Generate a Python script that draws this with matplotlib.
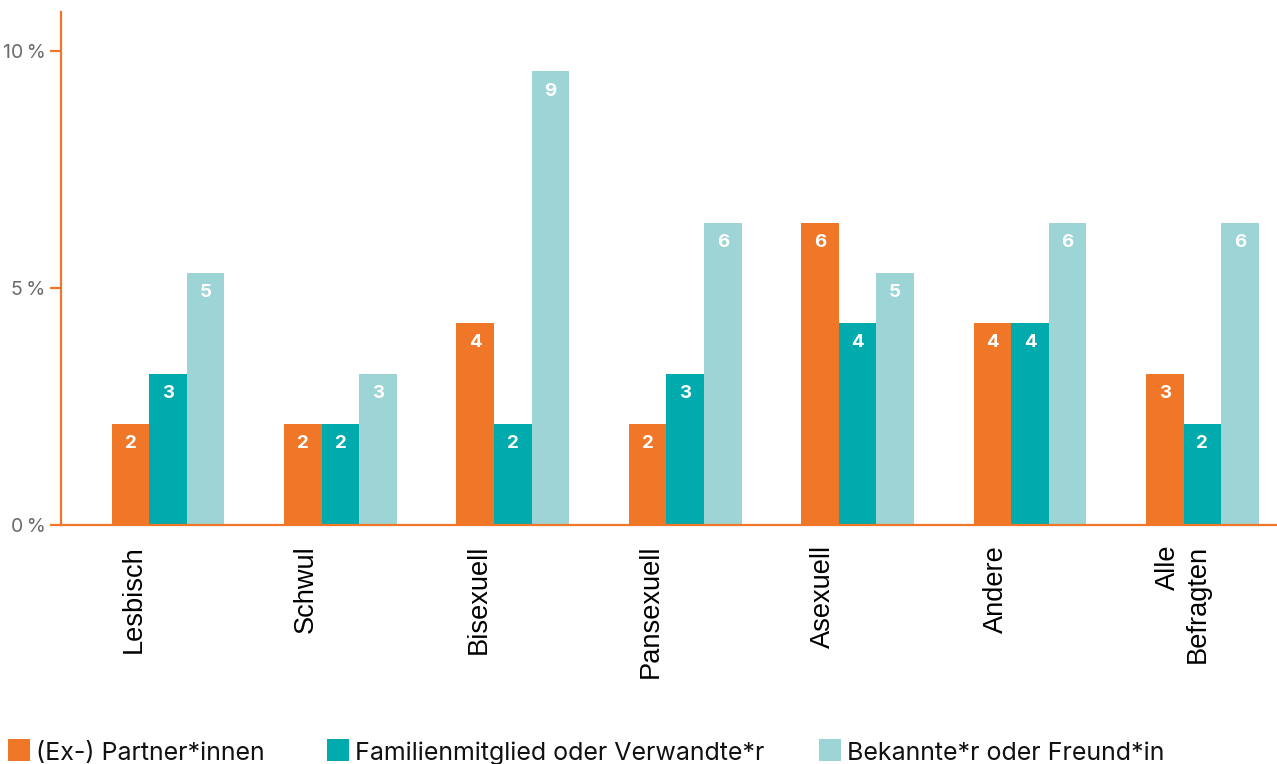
import matplotlib
matplotlib.use("Agg")
import matplotlib.pyplot as plt
import numpy as np
from matplotlib.patches import Rectangle
from matplotlib.transforms import blended_transform_factory

# categories and series (percent of respondents, counts shown on bars)
categories = ["Lesbisch", "Schwul", "Bisexuell", "Pansexuell", "Asexuell", "Andere", "Alle\nBefragten"]
series_names = ["(Ex-) Partner*innen", "Familienmitglied oder Verwandte*r", "Bekannte*r oder Freund*in"]
partner_pct = [2.13, 2.13, 4.26, 2.13, 6.38, 4.26, 3.19]
familie_pct = [3.19, 2.13, 2.13, 3.19, 4.26, 4.26, 2.13]
bekannte_pct = [5.32, 3.19, 9.57, 6.38, 5.32, 6.38, 6.38]
partner_n = [2, 2, 4, 2, 6, 4, 3]
familie_n = [3, 2, 2, 3, 4, 4, 2]
bekannte_n = [5, 3, 9, 6, 5, 6, 6]
y_ticks = [0, 5, 10]
y_ticklabels = ["0\u2009%", "5\u2009%", "10\u2009%"]

ORANGE = "#F07628"
TEAL = "#00AAAD"
LIGHT = "#9DD4D6"
colors = [ORANGE, TEAL, LIGHT]
W, H = 1277, 764

fig = plt.figure(figsize=(W / 100, H / 100), dpi=100)
ax = fig.add_axes([61 / W, (H - 525) / H, 1 - 61 / W, (525 - 12) / H])

x = np.arange(len(categories))
width = 0.218
values = [partner_pct, familie_pct, bekannte_pct]
counts = [partner_n, familie_n, bekannte_n]

for i, (vals, ns, c) in enumerate(zip(values, counts, colors)):
    pos = x + (i - 1) * width
    ax.bar(pos, vals, width, color=c, linewidth=0, label=series_names[i])
    for xp, v, n in zip(pos, vals, ns):
        ax.text(xp, v - 0.42, str(n), ha="center", va="center", color="white",
                fontsize=13.5, fontweight="bold", family=["Inter", "DejaVu Sans"])

ax.set_xlim(-0.621, 6.433)
ax.set_ylim(0, 10.82)

for side in ["top", "right"]:
    ax.spines[side].set_visible(False)
for side in ["left", "bottom"]:
    ax.spines[side].set_color(ORANGE)
    ax.spines[side].set_linewidth(1.6)

ax.set_yticks(y_ticks)
ax.set_yticklabels(y_ticklabels, family=["Inter", "DejaVu Sans"], fontsize=14, color="#6b6b6b")
ax.tick_params(axis="y", length=8, width=1.6, color=ORANGE, pad=3)

# category labels, rotated; first line sits left of the group centre
ax.set_xticks(x)
ax.set_xticklabels([])
ax.tick_params(axis="x", length=0)
trans = blended_transform_factory(ax.transData, ax.transAxes)
for xi, cat in zip(x, categories):
    ax.text(xi - 0.275, -20 / 513, cat, transform=trans, rotation=90, rotation_mode="anchor",
            ha="right", va="top", multialignment="right", fontsize=19.6,
            family=["Liberation Sans", "DejaVu Sans"], color="black")

# legend, drawn by hand
handle_x = [8, 327, 819]
for hx, c, name in zip(handle_x, colors, series_names):
    fig.add_artist(Rectangle((hx / W, (H - 761) / H), 22 / W, 22 / H, transform=fig.transFigure,
                             facecolor=c, edgecolor="none"))
    fig.text((hx + 28) / W, (H - 760) / H, name, ha="left", va="baseline", fontsize=18,
             family=["Inter", "DejaVu Sans"], color="#111111")

fig.savefig("out.png", dpi=100)
